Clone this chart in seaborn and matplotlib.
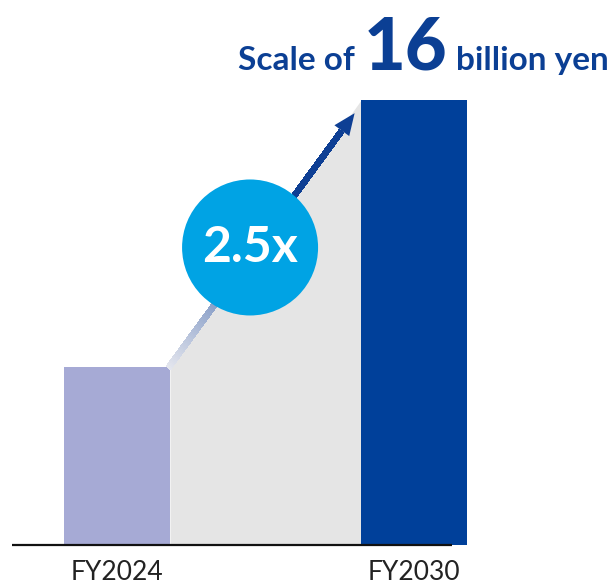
import numpy as np
import matplotlib
matplotlib.use("Agg")
import matplotlib.pyplot as plt
from matplotlib.collections import LineCollection
from matplotlib.colors import to_rgba
import seaborn as sns

# Data
categories = ["FY2024", "FY2030"]
values = [6.4, 16.0]
multiple_label = "2.5x"
title_parts = ["Scale of", "16", "billion yen"]

bar_colors = ["#A6AAD5", "#00409A"]
fill_color = "#E5E5E5"
circle_color = "#00A3E4"
title_color = "#0B3F94"

sns.set_theme(style="white")
plt.rcParams["font.family"] = ["Lato", "DejaVu Sans"]

W, H = 613, 585
fig = plt.figure(figsize=(W / 100, H / 100), dpi=100)
ax = fig.add_axes([0, 40 / H, 1, 1 - 40 / H])

bar_w = 0.357
x_left = 0 + bar_w / 2
x_right = 1 - bar_w / 2

# Grey trapezoid joining the two bar tops
ax.fill_between([x_left, x_right], [values[0], values[1]], 0,
                color=fill_color, lw=0, zorder=0.5)

sns.barplot(x=categories, y=values, hue=categories, palette=bar_colors,
            width=bar_w, legend=False, ax=ax, saturation=1, zorder=2,
            linewidth=0)

ax.set_xlim(-0.394, 1.670)
ax.set_ylim(0, 19.6)

# Baseline
ax.plot([-0.354, 1.128], [0, 0], color="#111111", lw=1.6, zorder=3,
        solid_capstyle="butt", clip_on=False)

# Growth arrow with a fading shaft
x0, y0 = x_left, values[0] + 0.05
x1, y1 = 0.80, values[1] - 0.47
n = 200
t = np.linspace(0, 1, n + 1)
xs = x0 + (x1 - x0) * t
ys = y0 + (y1 - y0) * t
segs = np.stack([np.column_stack([xs[:-1], ys[:-1]]),
                 np.column_stack([xs[1:], ys[1:]])], axis=1)
c0 = np.array(to_rgba("#E4E6EE"))
c1 = np.array(to_rgba("#0E3F94"))
tt = np.clip(t[:-1] / 0.6, 0, 1)[:, None]
cols = c0 * (1 - tt) + c1 * tt
m = int(n * 0.92)
lc = LineCollection(segs[:m], colors=cols[:m], linewidths=4,
                    capstyle="projecting", zorder=4, antialiased=False)
ax.add_collection(lc)
ax.annotate("", xy=(x1, y1), xytext=(xs[int(n * 0.88)], ys[int(n * 0.88)]),
            arrowprops=dict(arrowstyle="-|>,head_length=1.3,head_width=0.55",
                            color="#0E3F94", lw=0, shrinkA=0, shrinkB=0),
            zorder=5)

# Multiplier badge
cx, cy = 0.448, 10.70
ax.scatter([cx], [cy], s=(136 * 0.72) ** 2, color=circle_color,
           edgecolors="none", zorder=6)
ax.text(cx, cy, multiple_label, color="white", fontsize=36,
        fontweight="bold", ha="center", va="center", zorder=7)

# Axis styling
ax.set_xticks([0, 1])
ax.set_xticklabels(categories, fontsize=19, color="#222222")
ax.tick_params(axis="x", length=0, pad=11)
ax.set_yticks([])
ax.set_xlabel("")
ax.set_ylabel("")
for s in ax.spines.values():
    s.set_visible(False)
ax.patch.set_alpha(0)

# Headline
base_y = 1 - 70 / H
fig.text(355 / W, base_y, title_parts[0], fontsize=24, fontweight="bold",
         color=title_color, ha="right", va="baseline")
fig.text(406 / W, base_y, title_parts[1], fontsize=52, fontweight="black",
         color=title_color, ha="center", va="baseline")
fig.text(456 / W, base_y, title_parts[2], fontsize=24, fontweight="bold",
         color=title_color, ha="left", va="baseline")

fig.savefig("out.png", dpi=100)
